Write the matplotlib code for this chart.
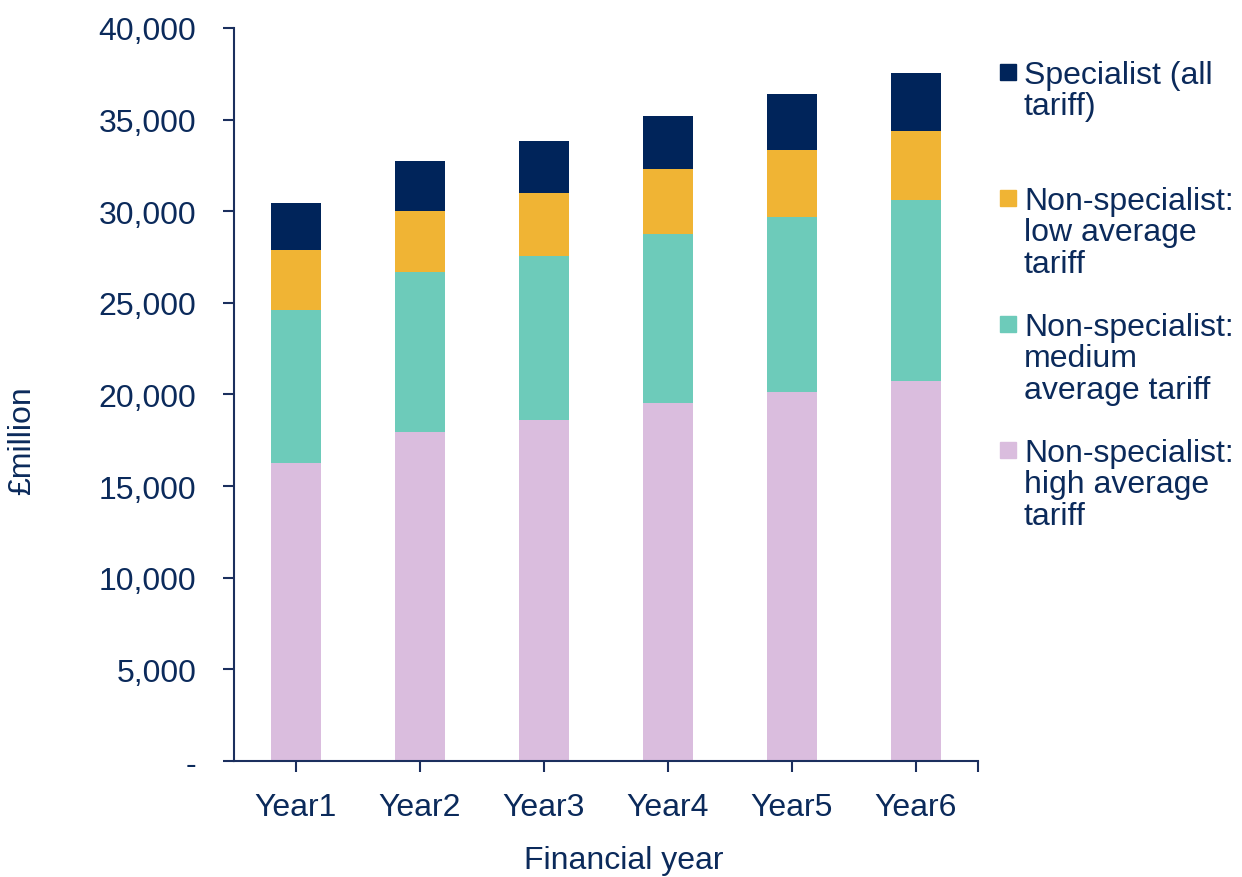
import matplotlib.pyplot as plt
from matplotlib.patches import Rectangle
import numpy as np

plt.rcParams['font.family'] = ['Liberation Sans', 'DejaVu Sans']

years = ['Year1', 'Year2', 'Year3', 'Year4', 'Year5', 'Year6']
high_tariff = [16250, 17950, 18600, 19550, 20150, 20750]
medium_tariff = [8350, 8750, 8950, 9200, 9550, 9850]
low_tariff = [3300, 3300, 3450, 3550, 3650, 3800]
specialist = [2550, 2750, 2850, 2900, 3050, 3150]

series = [
    ('Non-specialist:\nhigh average\ntariff', high_tariff, '#DABDDE'),
    ('Non-specialist:\nmedium\naverage tariff', medium_tariff, '#6DCBBA'),
    ('Non-specialist:\nlow average\ntariff', low_tariff, '#F0B434'),
    ('Specialist (all\ntariff)', specialist, '#00245A'),
]

txt = '#0B2A5B'
fs = 23

fig = plt.figure(figsize=(12.42, 8.78), dpi=100)
ax = fig.add_axes([0.1884, 0.1321, 0.599, 0.8349])

x = np.arange(len(years))
bottom = np.zeros(len(years))
for name, vals, col in series:
    ax.bar(x, vals, width=0.4, bottom=bottom, color=col, label=name)
    bottom += np.array(vals)

ax.set_xlim(-0.5, 5.5)
ax.set_ylim(0, 40000)
yt = np.arange(0, 40001, 5000)
ax.set_yticks(yt)
ax.set_yticklabels(['-' if v == 0 else f'{v:,}' for v in yt])
ax.set_xticks(list(x) + [5.5])
ax.set_xticklabels(years + [''])

for s in ['top', 'right']:
    ax.spines[s].set_visible(False)
for s in ['left', 'bottom']:
    ax.spines[s].set_color('#1B2F5E')
    ax.spines[s].set_linewidth(1.5)
ax.tick_params(axis='both', colors='#1B2F5E', labelcolor=txt, labelsize=fs,
               length=8, width=1.5, direction='out')
ax.tick_params(axis='y', pad=19)
ax.tick_params(axis='x', pad=14)

ax.set_ylabel('£million', fontsize=fs, color=txt)
ax.set_xlabel('Financial year', fontsize=fs, color=txt)
ax.yaxis.set_label_coords(-0.265, 0.439)
ax.xaxis.set_label_coords(0.524, -0.114)

# legend drawn by hand, top entry first
H, W = 878, 1242
for i, (name, vals, col) in enumerate(series[::-1]):
    yc = 73 + i * 126
    fig.add_artist(Rectangle((1000 / W, 1 - (yc + 8) / H), 16 / W, 16 / H,
                             transform=fig.transFigure, color=col))
    fig.text(1024 / W, 1 - (yc - 12) / H, name, fontsize=fs, color=txt,
             va='top', ha='left', linespacing=1.06)

fig.savefig('out.png', dpi=100)
